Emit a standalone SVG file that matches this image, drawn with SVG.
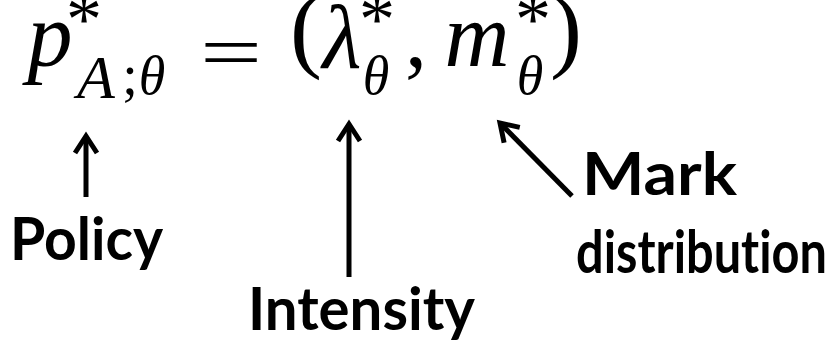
<svg xmlns="http://www.w3.org/2000/svg" width="834" height="344" viewBox="0 0 834 344">
<style>
.m{font-family:"Liberation Serif","Times New Roman",serif;font-style:italic;fill:#000;text-anchor:middle}
.u{font-family:"Liberation Serif","Times New Roman",serif;font-style:normal;fill:#000;text-anchor:middle}
.st{font-family:"Liberation Serif","Times New Roman",serif;font-size:72px;fill:#000;text-anchor:middle}
.lab{font-family:Lato,"Open Sans","Liberation Sans",sans-serif;font-weight:700;font-size:60px;fill:#000;font-variant-ligatures:none;font-feature-settings:"liga" 0,"dlig" 0}
.arr{stroke:#000;stroke-width:5;fill:none;marker-end:url(#head)}
</style>
<defs>
<marker id="head" markerUnits="userSpaceOnUse" viewBox="-24 -16 30 32" markerWidth="30" markerHeight="32" refX="0" refY="0" orient="auto">
<path d="M-17,-11 L0,0 L-17,11" fill="none" stroke="#000" stroke-width="5" stroke-linejoin="miter" stroke-miterlimit="10"/>
</marker>
</defs>
<rect width="834" height="344" fill="#fff"/>
<g id="formula">
<text class="m" x="50" y="66" font-size="90">p</text>
<text class="st" x="84" y="43">*</text>
<text class="m" x="96" y="98" font-size="62">A</text>
<text class="u" x="130" y="94" font-size="56">;</text>
<text class="m" x="152" y="94" font-size="54">θ</text>
<text class="u" x="0" y="0" font-size="76" transform="translate(231,78) scale(1.45,1)">=</text>
<text class="u" x="306" y="60" font-size="96">(</text>
<text class="m" x="342" y="68" font-size="90">λ</text>
<text class="st" x="377" y="43">*</text>
<text class="m" x="376" y="94" font-size="54">θ</text>
<text class="u" x="416" y="66" font-size="88">,</text>
<text class="m" x="477" y="66" font-size="90">m</text>
<text class="st" x="533" y="43">*</text>
<text class="m" x="530" y="94" font-size="54">θ</text>
<text class="u" x="566" y="60" font-size="96">)</text>
</g>
<g id="connectors">
<line class="arr" x1="86" y1="197" x2="86" y2="136"/>
<line class="arr" x1="349" y1="277" x2="349" y2="124"/>
<line class="arr" x1="572" y1="196" x2="500" y2="123"/>
</g>
<g id="label-policy"><text class="lab" x="10" y="260" textLength="153" lengthAdjust="spacingAndGlyphs">Policy</text></g>
<g id="label-intensity"><text class="lab" x="248" y="330" textLength="227" lengthAdjust="spacingAndGlyphs">Intensity</text></g>
<g id="label-mark"><text class="lab" x="582" y="195" textLength="155" lengthAdjust="spacingAndGlyphs">Mark</text>
<text class="lab" x="576" y="273" textLength="251" lengthAdjust="spacingAndGlyphs">distribution</text></g>
</svg>
